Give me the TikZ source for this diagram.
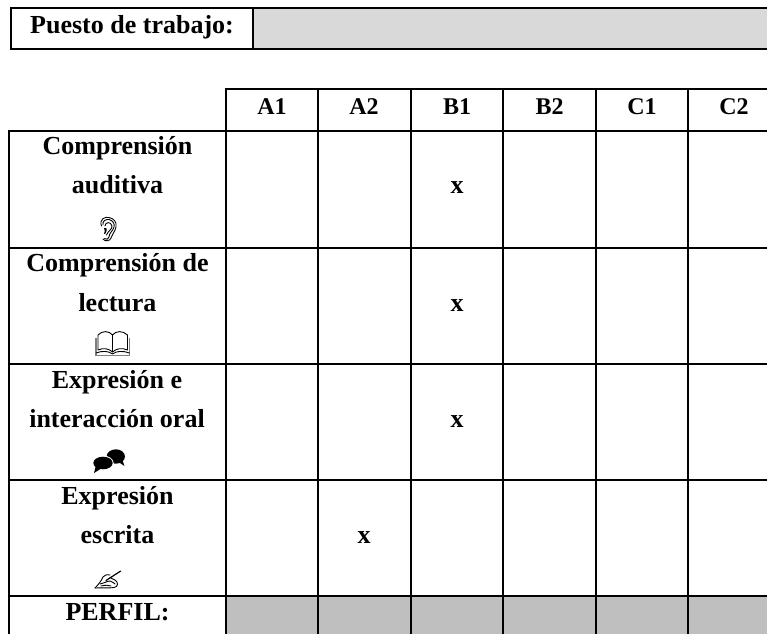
\documentclass[tikz,border=0pt]{standalone}
\usepackage{fontspec}
\setmainfont{Liberation Serif}
\definecolor{lightfill}{HTML}{D9D9D9}
\definecolor{darkfill}{HTML}{BFBFBF}
\definecolor{bookgray}{HTML}{7F7F7F}
\tikzset{
  gridline/.style={line width=1.8pt,black},
  lab/.style={anchor=base,inner sep=0pt,font=\fontsize{26}{26}\selectfont\bfseries},
  head/.style={anchor=base,inner sep=0pt,font=\fontsize{24}{24}\selectfont\bfseries},
  iconline/.style={line width=0.9pt,black,line join=round,line cap=round},
}
\begin{document}
\begin{tikzpicture}[x=1pt,y=-1pt]
\useasboundingbox (0,0) rectangle (767,634);
\begin{scope}
\clip (0,0) rectangle (767,634);
\fill[lightfill] (253,8) rectangle (767,49);
\foreach \a/\b in {226/318,318/411,411/503,503/596,596/688,688/767}
  \fill[darkfill] (\a,596) rectangle (\b,634);
% top box
\draw[gridline] (767,8) -- (11,8) -- (11,49) -- (767,49);
\draw[gridline] (253,8) -- (253,49);
% table
\draw[gridline] (226,89) -- (767,89);
\foreach \y in {131,248,364,480,596}
  \draw[gridline] (9,\y) -- (767,\y);
\draw[gridline] (9,130) -- (9,634);
\foreach \x in {226,318,411,503,596,688}
  \draw[gridline] (\x,88) -- (\x,634);
\end{scope}
\node[lab] (puesto) at (132,33.5) {Puesto de trabajo:};
\node[head] (ha) at (272,114) {A1};
\node[head] (hb) at (364,114) {A2};
\node[head] (hc) at (457,114) {B1};
\node[head] (hd) at (549.5,114) {B2};
\node[head] (he) at (642,114) {C1};
\node[head] (hf) at (734,114) {C2};
\node[lab] (r1a) at (117.5,154) {Comprensión};
\node[lab] (r1b) at (117.5,193.5) {auditiva};
\node[lab] (r2a) at (117.5,271.5) {Comprensión de};
\node[lab] (r2b) at (117.5,311) {lectura};
\node[lab] (r3a) at (117,388) {Expresión e};
\node[lab] (r3b) at (117,427) {interacción oral};
\node[lab] (r4a) at (117.5,504) {Expresión};
\node[lab] (r4b) at (117.5,543) {escrita};
\node[lab] (r5) at (117.5,620) {PERFIL:};
\node[lab] (x1) at (457,193.5) {x};
\node[lab] (x2) at (457,311) {x};
\node[lab] (x3) at (457,427) {x};
\node[lab] (x4) at (364,543) {x};
% ear
\begin{scope}[xshift=-1pt]
\draw[iconline] (102.5,226) .. controls (100,219) and (106,216.5) .. (110,217.5)
  .. controls (115,218.5) and (118,222) .. (117,227)
  .. controls (116,232) and (113,234) .. (112,238)
  .. controls (111,241) and (106,242) .. (104,239);
\draw[iconline] (104,225) .. controls (103,221) and (107,219) .. (110,219.5)
  .. controls (114,220.5) and (116,224) .. (115,227)
  .. controls (114,231) and (110,233) .. (110,237)
  .. controls (109.5,239.5) and (107,240) .. (105.5,238.5);
\draw[iconline] (106,226) .. controls (106,222) and (112,221) .. (113,226)
  .. controls (113.5,229) and (109,231) .. (107.5,235);
\fill[black] (105,228) .. controls (107,227) and (108,228) .. (107.5,231)
  .. controls (107,233) and (106,235) .. (105,234)
  .. controls (106,232) and (106,230) .. (105,228) -- cycle;
\end{scope}
% book
\draw[bookgray,line width=1.2pt] (96,338) -- (96,355.5) -- (129.5,355.5) -- (129.5,338);
\draw[iconline,fill=white] (98,335) .. controls (102,330.5) and (109,330.5) .. (112.5,335)
  .. controls (116,330.5) and (123,330.5) .. (127.5,335)
  -- (127.5,350) .. controls (122,347.5) and (116,348.5) .. (112.5,352)
  .. controls (109,348.5) and (103,347.5) .. (98,350) -- cycle;
\draw[iconline] (112.5,335) -- (112.5,352);
\draw[iconline] (96,353) .. controls (102,350.5) and (109,351) .. (112.5,354)
  .. controls (116,351) and (123,350.5) .. (129.5,353);
% speech bubbles
\fill[black] (115.8,456.5) ellipse[x radius=9.2,y radius=7.2];
\fill[black] (117,461) -- (124.5,466) -- (121,456) -- cycle;
\fill[white] (102.8,463.5) ellipse[x radius=11,y radius=8];
\fill[black] (103,463) ellipse[x radius=9.7,y radius=6.3];
\fill[black] (96,465) -- (94,473) -- (102,468) -- cycle;
% writing hand
\draw[line width=1.2pt,black,line cap=round] (120.7,571) -- (106,580.5);
\draw[iconline] (95,588) .. controls (99,584) and (101,581) .. (103,577)
  .. controls (106,574.5) and (108,574) .. (110,575);
\draw[iconline] (95,588) .. controls (102,587.5) and (108,588.5) .. (114,587.5)
  .. controls (118.5,587) and (118.5,582) .. (115,580)
  .. controls (113,578.5) and (112,578) .. (110,577.5);
\draw[iconline] (100,584) .. controls (104,583) and (108,581) .. (110,581)
  .. controls (112,581.5) and (114,583) .. (115,584);
\draw[iconline] (101,586) .. controls (105,585) and (108,585) .. (111,586);
\end{tikzpicture}
\end{document}
